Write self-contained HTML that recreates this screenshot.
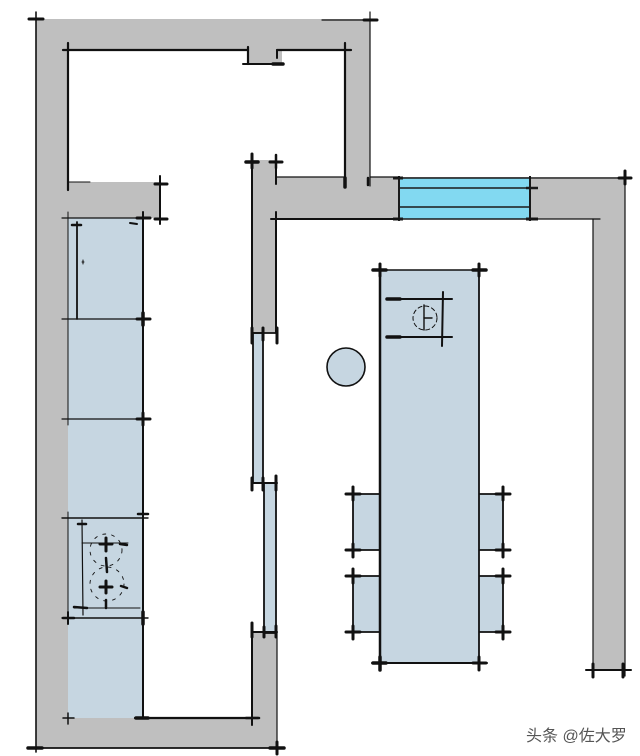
<!DOCTYPE html>
<html><head><meta charset="utf-8"><style>
html,body{margin:0;padding:0;background:#fff;}
svg{display:block;}
</style></head><body>
<svg width="640" height="756" viewBox="0 0 640 756" xmlns="http://www.w3.org/2000/svg">
<g fill="#bfbfbf" stroke="none">
  <rect x="36" y="19" width="32" height="729"/>
  <rect x="36" y="19" width="334" height="31"/>
  <rect x="248" y="50" width="34" height="14"/>
  <rect x="345" y="19" width="25" height="200"/>
  <rect x="68" y="182" width="92" height="36"/>
  <rect x="252" y="160" width="25" height="173"/>
  <rect x="276" y="177" width="349" height="42"/>
  <rect x="593" y="177" width="32" height="493"/>
  <rect x="252" y="632" width="25" height="116"/>
  <rect x="36" y="718" width="241" height="30"/>
</g>
<!-- kitchen counter -->
<rect x="68" y="218" width="75" height="500" fill="#c6d6e1"/>
<!-- window -->
<rect x="399" y="178" width="131" height="41" fill="#82d9f1"/>
<g stroke="#1a1a1a" fill="none" stroke-width="1.6">
  <line x1="399" y1="178" x2="530" y2="178"/>
  <line x1="399" y1="188" x2="530" y2="188"/>
  <line x1="399" y1="207" x2="530" y2="207"/>
  <line x1="399" y1="219" x2="530" y2="219"/>
  <line x1="399" y1="176" x2="399" y2="221" stroke-width="2"/>
  <line x1="530" y1="176" x2="530" y2="221" stroke-width="2"/>
  <line x1="393" y1="178" x2="403" y2="178" stroke-width="3"/>
  <line x1="393" y1="219" x2="403" y2="219" stroke-width="3"/>
  <line x1="526" y1="188" x2="538" y2="188" stroke-width="2.5"/>
  <line x1="526" y1="219" x2="538" y2="219" stroke-width="3"/>
</g>

<g stroke="#111" fill="none" stroke-linecap="round">
  <!-- outer left & top -->
  <line x1="36" y1="12" x2="36" y2="752" stroke-width="1.6"/>
  <line x1="29" y1="19" x2="43" y2="19" stroke-width="3"/>
  <line x1="322" y1="20" x2="377" y2="20" stroke-width="1.2"/>
  <line x1="370" y1="12" x2="370" y2="186" stroke-width="1.2"/>
  <line x1="364" y1="20" x2="377" y2="20" stroke-width="3"/>
  <!-- upper room -->
  <line x1="63" y1="50" x2="248" y2="50" stroke-width="2.2"/>
  <line x1="68" y1="43" x2="68" y2="190" stroke-width="2.2"/>
  <line x1="68" y1="182" x2="90" y2="182" stroke-width="1"/>
  <line x1="248" y1="47" x2="248" y2="64" stroke-width="2.2"/>
  <line x1="243" y1="64" x2="283" y2="64" stroke-width="2"/>
  <line x1="273" y1="64" x2="283" y2="64" stroke-width="3.5"/>
  <line x1="277" y1="50" x2="277" y2="58" stroke-width="2"/>
  <line x1="277" y1="50" x2="351" y2="50" stroke-width="2.2"/>
  <line x1="345" y1="43" x2="345" y2="187" stroke-width="2.2"/>
  <line x1="345" y1="178" x2="345" y2="187" stroke-width="3.5"/>
  <line x1="368" y1="178" x2="368" y2="185" stroke-width="2.5"/>
  <line x1="160" y1="176" x2="160" y2="224" stroke-width="2"/>
  <line x1="155" y1="184" x2="167" y2="184" stroke-width="3"/>
  <line x1="155" y1="219" x2="167" y2="219" stroke-width="3"/>
  <!-- kitchen counter -->
  <line x1="62" y1="218" x2="148" y2="218" stroke-width="1.2"/>
  <line x1="68" y1="212" x2="68" y2="425" stroke-width="1"/>
  <line x1="77" y1="222" x2="77" y2="319" stroke-width="1.8"/>
  <line x1="72" y1="225" x2="81" y2="225" stroke-width="2.5"/>
  <line x1="82" y1="262" x2="84" y2="262" stroke-width="1"/>
  <line x1="83" y1="260" x2="83" y2="264" stroke-width="1"/>
  <line x1="130" y1="223" x2="137" y2="224" stroke-width="2"/>
  <line x1="143" y1="212" x2="143" y2="718" stroke-width="2"/>
  <line x1="62" y1="319" x2="150" y2="319" stroke-width="1.2"/>
  <line x1="62" y1="419" x2="150" y2="419" stroke-width="1.2"/>
  <line x1="137" y1="218" x2="150" y2="218" stroke-width="3"/>
  <line x1="137" y1="319" x2="150" y2="319" stroke-width="3"/>
  <line x1="143" y1="313" x2="143" y2="325" stroke-width="3.5"/>
  <line x1="137" y1="419" x2="150" y2="419" stroke-width="3"/>
  <line x1="143" y1="413" x2="143" y2="425" stroke-width="3"/>
  <!-- stove -->
  <line x1="68" y1="512" x2="68" y2="622" stroke-width="1"/>
  <line x1="62" y1="518" x2="148" y2="518" stroke-width="1.4"/>
  <line x1="62" y1="618" x2="148" y2="618" stroke-width="1.4"/>
  <line x1="82" y1="520" x2="83" y2="615" stroke-width="1.2"/>
  <line x1="78" y1="524" x2="86" y2="524" stroke-width="2.5"/>
  <line x1="82" y1="543" x2="128" y2="543" stroke-width="1"/>
  <line x1="74" y1="608" x2="140" y2="608" stroke-width="1"/>
  <line x1="74" y1="607" x2="87" y2="608" stroke-width="2.5"/>
  <line x1="138" y1="514" x2="148" y2="514" stroke-width="2.5"/>
  <line x1="143" y1="612" x2="143" y2="624" stroke-width="3.5"/>
  <line x1="63" y1="618" x2="74" y2="618" stroke-width="2.5"/>
  <line x1="68" y1="612" x2="68" y2="624" stroke-width="2"/>
  <!-- burners -->
  <line x1="100" y1="544" x2="112" y2="544" stroke-width="3"/>
  <line x1="106" y1="538" x2="106" y2="551" stroke-width="3"/>
  <line x1="120" y1="544" x2="127" y2="545" stroke-width="2.5"/>
  <line x1="106" y1="558" x2="107" y2="572" stroke-width="2.5"/>
  <line x1="100" y1="587" x2="112" y2="587" stroke-width="3"/>
  <line x1="106" y1="581" x2="106" y2="593" stroke-width="3"/>
  <line x1="121" y1="586" x2="127" y2="588" stroke-width="2.5"/>
  <line x1="106" y1="600" x2="106" y2="608" stroke-width="2.5"/>
  <circle cx="106" cy="550" r="16" stroke-width="0.9" stroke-dasharray="3 6"/>
  <circle cx="107" cy="584" r="17" stroke-width="0.9" stroke-dasharray="3 6"/>
  <!-- bottom -->
  <line x1="135" y1="718" x2="258" y2="718" stroke-width="2.2"/>
  <line x1="136" y1="718" x2="148" y2="718" stroke-width="3.5"/>
  <line x1="63" y1="718" x2="74" y2="718" stroke-width="1.5"/>
  <line x1="68" y1="713" x2="68" y2="724" stroke-width="1.5"/>
  <line x1="246" y1="718" x2="259" y2="718" stroke-width="2.5"/>
  <line x1="252" y1="712" x2="252" y2="725" stroke-width="2"/>
  <line x1="29" y1="748" x2="283" y2="748" stroke-width="1.8"/>
  <line x1="28" y1="748" x2="42" y2="748" stroke-width="3.5"/>
  <line x1="270" y1="748" x2="284" y2="748" stroke-width="3.5"/>
  <line x1="277" y1="742" x2="277" y2="754" stroke-width="3"/>
  <!-- middle wall -->
  <line x1="252" y1="155" x2="252" y2="334" stroke-width="2"/>
  <line x1="246" y1="162" x2="258" y2="162" stroke-width="3.5"/>
  <line x1="252" y1="154" x2="252" y2="168" stroke-width="3"/>
  <line x1="270" y1="162" x2="282" y2="162" stroke-width="3"/>
  <line x1="276" y1="155" x2="276" y2="168" stroke-width="2.5"/>
  <line x1="276" y1="168" x2="276" y2="184" stroke-width="2"/>
  <line x1="276" y1="177" x2="345" y2="177" stroke-width="1.2"/>
  <line x1="370" y1="177" x2="399" y2="177" stroke-width="1.2"/>
  <line x1="530" y1="178" x2="625" y2="178" stroke-width="1.2"/>
  <line x1="271" y1="219" x2="399" y2="219" stroke-width="2"/>
  <line x1="276" y1="212" x2="276" y2="333" stroke-width="2"/>
  <line x1="530" y1="219" x2="600" y2="219" stroke-width="1.2"/>
  <line x1="252" y1="630" x2="252" y2="718" stroke-width="2"/>
  <line x1="277" y1="632" x2="277" y2="752" stroke-width="1.2"/>
  <!-- sliding door -->
  <rect x="253" y="333" width="10" height="150" fill="#c6d6e1" stroke-width="1.8"/>
  <rect x="264" y="483" width="12" height="150" fill="#c6d6e1" stroke-width="1.8"/>
  <line x1="252" y1="328" x2="252" y2="343" stroke-width="3"/>
  <line x1="263" y1="328" x2="263" y2="340" stroke-width="3"/>
  <line x1="277" y1="328" x2="277" y2="343" stroke-width="3"/>
  <line x1="252" y1="333" x2="277" y2="333" stroke-width="1.8"/>
  <line x1="252" y1="478" x2="252" y2="490" stroke-width="3"/>
  <line x1="252" y1="483" x2="277" y2="483" stroke-width="2"/>
  <line x1="263" y1="478" x2="263" y2="490" stroke-width="3"/>
  <line x1="276" y1="476" x2="276" y2="490" stroke-width="3"/>
  <line x1="252" y1="623" x2="252" y2="637" stroke-width="3"/>
  <line x1="252" y1="632" x2="277" y2="632" stroke-width="2"/>
  <line x1="264" y1="627" x2="264" y2="637" stroke-width="3"/>
  <line x1="276" y1="626" x2="276" y2="637" stroke-width="3"/>
  <!-- right wall -->
  <line x1="625" y1="172" x2="625" y2="676" stroke-width="1.2"/>
  <line x1="619" y1="178" x2="631" y2="178" stroke-width="3"/>
  <line x1="625" y1="171" x2="625" y2="184" stroke-width="3"/>
  <line x1="593" y1="219" x2="593" y2="670" stroke-width="1.2"/>
  <line x1="586" y1="670" x2="631" y2="670" stroke-width="2"/>
  <line x1="593" y1="664" x2="593" y2="677" stroke-width="3"/>
  <line x1="623" y1="664" x2="623" y2="677" stroke-width="3"/>
  <!-- chairs -->
  <rect x="353" y="494" width="27" height="56" fill="#c6d6e1" stroke="none"/>
  <rect x="353" y="576" width="27" height="56" fill="#c6d6e1" stroke="none"/>
  <rect x="479" y="494" width="24" height="56" fill="#c6d6e1" stroke="none"/>
  <rect x="479" y="576" width="24" height="56" fill="#c6d6e1" stroke="none"/>
  <g stroke-width="1.8">
    <path d="M380 494 H353 V550 H380"/>
    <path d="M380 576 H353 V632 H380"/>
    <path d="M479 494 H503 V550 H479"/>
    <path d="M479 576 H503 V632 H479"/>
  </g>
  <g stroke-width="3">
    <line x1="346" y1="494" x2="360" y2="494"/><line x1="353" y1="487" x2="353" y2="500"/>
    <line x1="346" y1="550" x2="360" y2="550"/><line x1="353" y1="544" x2="353" y2="557"/>
    <line x1="346" y1="576" x2="360" y2="576"/><line x1="353" y1="569" x2="353" y2="583"/>
    <line x1="346" y1="632" x2="360" y2="632"/><line x1="353" y1="626" x2="353" y2="639"/>
    <line x1="496" y1="494" x2="510" y2="494"/><line x1="503" y1="487" x2="503" y2="500"/>
    <line x1="496" y1="550" x2="510" y2="550"/><line x1="503" y1="544" x2="503" y2="557"/>
    <line x1="496" y1="576" x2="510" y2="576"/><line x1="503" y1="569" x2="503" y2="583"/>
    <line x1="496" y1="632" x2="510" y2="632"/><line x1="503" y1="626" x2="503" y2="639"/>
  </g>
  <!-- table -->
  <rect x="380" y="270" width="99" height="393" fill="#c6d6e1" stroke="none"/>
  <line x1="380" y1="270" x2="479" y2="270" stroke-width="1.5"/>
  <line x1="380" y1="265" x2="380" y2="668" stroke-width="2.5"/>
  <line x1="479" y1="265" x2="479" y2="668" stroke-width="1.8"/>
  <line x1="372" y1="663" x2="487" y2="663" stroke-width="2"/>
  <line x1="373" y1="270" x2="386" y2="270" stroke-width="3.5"/>
  <line x1="380" y1="264" x2="380" y2="276" stroke-width="3"/>
  <line x1="473" y1="270" x2="486" y2="270" stroke-width="3.5"/>
  <line x1="479" y1="264" x2="479" y2="276" stroke-width="3"/>
  <line x1="373" y1="663" x2="386" y2="663" stroke-width="3.5"/>
  <line x1="380" y1="657" x2="380" y2="670" stroke-width="3.5"/>
  <line x1="473" y1="663" x2="486" y2="663" stroke-width="3"/>
  <line x1="479" y1="657" x2="479" y2="670" stroke-width="3"/>
  <!-- cooktop on table -->
  <line x1="387" y1="299" x2="452" y2="299" stroke-width="2"/>
  <line x1="387" y1="299" x2="400" y2="299" stroke-width="3.5"/>
  <line x1="387" y1="337" x2="452" y2="337" stroke-width="2"/>
  <line x1="387" y1="337" x2="400" y2="337" stroke-width="3.5"/>
  <line x1="443" y1="292" x2="442" y2="346" stroke-width="2"/>
  <circle cx="425" cy="318" r="12" stroke-width="1" stroke-dasharray="4 3"/>
  <line x1="424" y1="305" x2="424" y2="330" stroke-width="1.4"/>
  <line x1="424" y1="318" x2="432" y2="318" stroke-width="1.4"/>
  <!-- stool -->
  <circle cx="346" cy="367" r="19" fill="#c6d6e1" stroke-width="1.6"/>
</g>
<text x="526" y="741" font-family="'Liberation Sans','Noto Sans CJK SC',sans-serif" font-size="16" fill="#555">头条 @佐大罗</text>
</svg>
</body></html>
